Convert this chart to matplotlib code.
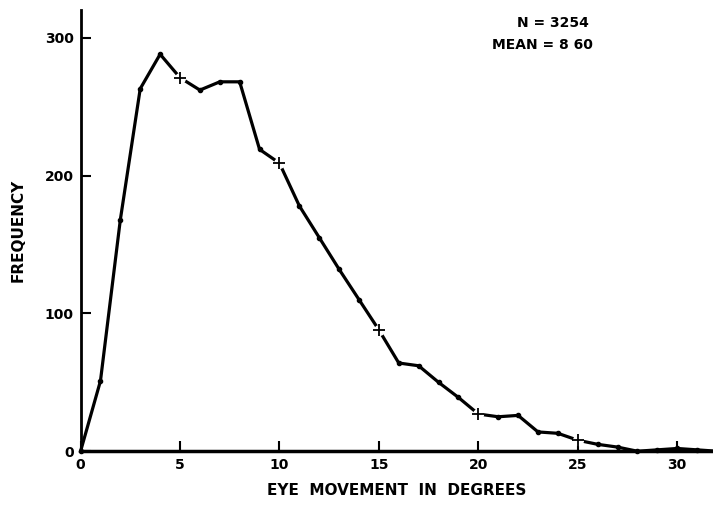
import numpy as np
import matplotlib.pyplot as plt

# Values (frequency per 1-degree bin)
degrees = list(range(0, 33))
frequency = [0, 51, 168, 263, 288, 271, 262, 268, 268, 219, 209, 178, 155, 132,
             110, 88, 64, 62, 50, 39, 27, 25, 26, 14, 13, 8, 5, 3, 0, 1, 2, 1, 0]
cross_degrees = [5, 10, 15, 20, 25]
x_ticks = [0, 5, 10, 15, 20, 25, 30]
y_ticks = [0, 100, 200, 300]

plt.rcParams['font.family'] = 'DejaVu Sans'
plt.rcParams['font.weight'] = 'bold'

fig = plt.figure(figsize=(7.13, 5.07), dpi=100)
ax = fig.add_axes([0.113, 0.110, 0.887, 0.870])

x = np.array(degrees)
y = np.array(frequency)
ax.plot(x, y, color='black', linewidth=2.3, marker='o', markersize=3,
        solid_joinstyle='round', clip_on=False, zorder=3)

# crosses at every fifth degree, with a small break in the line around them
cx = np.array(cross_degrees)
cy = y[cx]
ax.plot(cx, cy, linestyle='none', marker='o', markersize=7,
        markerfacecolor='white', markeredgecolor='white', zorder=4)
ax.plot(cx, cy, linestyle='none', marker='+', markersize=8,
        markeredgewidth=1.3, color='black', zorder=5)

ax.set_xlim(0, 31.8)
ax.set_ylim(0, 320)
ax.set_xticks(x_ticks)
ax.set_yticks(y_ticks)
ax.tick_params(direction='in', length=7, width=1.5, labelsize=10, pad=5)
for lab in ax.get_xticklabels() + ax.get_yticklabels():
    lab.set_fontweight('bold')

ax.spines['top'].set_visible(False)
ax.spines['right'].set_visible(False)
ax.spines['left'].set_linewidth(2)
ax.spines['bottom'].set_linewidth(2.5)

ax.set_xlabel('EYE  MOVEMENT  IN  DEGREES', fontsize=11, fontweight='bold', labelpad=8)
ax.set_ylabel('FREQUENCY', fontsize=11, fontweight='bold', labelpad=14)

ax.text(0.725, 0.955, 'N = 3254', transform=fig.transFigure, fontsize=10,
        fontweight='bold', va='center', ha='left')
ax.text(0.690, 0.912, 'MEAN = 8 60', transform=fig.transFigure, fontsize=10,
        fontweight='bold', va='center', ha='left')

fig.savefig('out.png', dpi=100)
